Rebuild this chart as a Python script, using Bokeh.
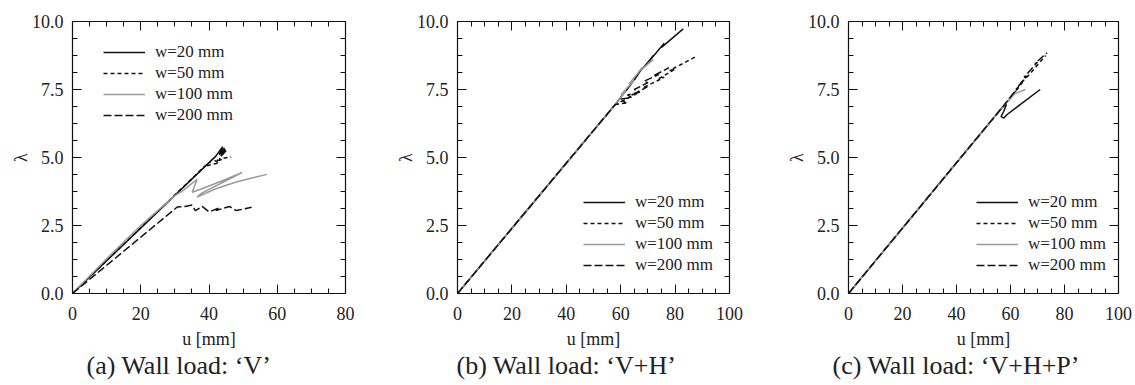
from bokeh.plotting import figure
from bokeh.layouts import row
from bokeh.models import (FixedTicker, LinearAxis, PrintfTickFormatter, Title, Range1d)
from bokeh.embed import file_html
from bokeh.resources import INLINE

# ---------------- data ----------------
series_labels = ["w=20 mm", "w=50 mm", "w=100 mm", "w=200 mm"]

# (a) Wall load: 'V'
a_w20_u = [0, 42, 44, 43, 44.5, 43.5, 45, 44, 44.8]
a_w20_l = [0, 5.05, 5.4, 5.1, 5.35, 5.05, 5.25, 5.15, 5.3]
a_w50_u = [0, 38.5, 40.5, 39.5, 41, 43, 41.5, 44, 43, 46.5]
a_w50_l = [0, 4.65, 4.85, 4.7, 4.75, 4.8, 4.9, 4.9, 4.95, 5.02]
a_w100_u = [0, 10, 20, 30, 32.6, 36.5, 35.1, 40, 45, 49.7, 38, 36.5, 42, 48, 57]
a_w100_l = [0, 1.28, 2.5, 3.6, 3.8, 4.2, 3.72, 3.95, 4.2, 4.45, 3.7, 3.55, 3.85, 4.1, 4.38]
a_w200_u = [0, 30.7, 33, 35, 36, 38, 40, 43, 42, 46, 48, 52.5]
a_w200_l = [0, 3.18, 3.2, 3.25, 3.05, 3.2, 3.0, 3.15, 3.05, 3.2, 3.05, 3.17]

# (b) Wall load: 'V+H'
b_w20_u = [0, 58, 63, 62, 66, 65, 68, 66.5, 70, 72, 70.5, 76, 75, 83]
b_w20_l = [0, 6.95, 7.6, 7.45, 8.0, 7.85, 8.3, 8.1, 8.5, 8.75, 8.55, 9.2, 9.05, 9.73]
b_w50_u = [0, 58, 61, 60, 66, 64, 70, 68, 76, 74, 80, 78, 87.5]
b_w50_l = [0, 6.95, 7.1, 7.05, 7.35, 7.3, 7.6, 7.55, 7.95, 7.9, 8.25, 8.2, 8.7]
b_w100_u = [0, 58, 62, 60, 65, 63, 68, 66.5, 72]
b_w100_l = [0, 6.95, 7.45, 7.3, 7.85, 7.7, 8.3, 8.15, 8.6]
b_w200_u = [0, 58, 62, 60, 64, 62.5, 67, 65, 70, 68.5, 74, 72, 77.7]
b_w200_l = [0, 6.95, 7.0, 7.15, 7.2, 7.3, 7.4, 7.5, 7.75, 7.8, 8.05, 8.0, 8.3]

# (c) Wall load: 'V+H+P'
c_w20_u = [0, 57, 58.5, 57.5, 56.5, 57.5, 59, 71]
c_w20_l = [0, 6.85, 6.95, 6.7, 6.5, 6.45, 6.6, 7.5]
c_w50_u = [0, 57, 62, 61, 65, 63.5, 67, 73]
c_w50_l = [0, 6.85, 7.45, 7.3, 7.85, 7.7, 8.05, 8.75]
c_w100_u = [0, 57, 60, 59, 62, 60.5, 65.5]
c_w100_l = [0, 6.85, 7.2, 7.05, 7.4, 7.3, 7.5]
c_w200_u = [0, 57, 63, 62, 66, 65, 70, 69, 73.5]
c_w200_l = [0, 6.85, 7.6, 7.5, 8.0, 7.95, 8.5, 8.45, 8.85]

x_ticks_a = [0, 20, 40, 60, 80]
x_ticks_bc = [0, 20, 40, 60, 80, 100]
y_ticks = [0, 2.5, 5.0, 7.5, 10.0]
captions = ["(a) Wall load: \u2018V\u2019", "(b) Wall load: \u2018V+H\u2019", "(c) Wall load: \u2018V+H+P\u2019"]

# ---------------- styling ----------------
FONT = "Liberation Serif"
TXT = "#222222"
styles = [
    dict(line_color="#111111", line_dash="solid"),
    dict(line_color="#111111", line_dash="4 3"),
    dict(line_color="#9a9a9a", line_dash="solid"),
    dict(line_color="#111111", line_dash="8 3"),
]


def style_axis(ax):
    ax.axis_line_color = "#111111"
    ax.major_tick_line_color = "#111111"
    ax.minor_tick_line_color = "#111111"
    ax.major_tick_in = 9
    ax.major_tick_out = 0
    ax.minor_tick_in = 5
    ax.minor_tick_out = 0
    ax.major_label_text_font = FONT
    ax.major_label_text_font_size = "18px"
    ax.major_label_text_color = TXT
    ax.axis_label_text_font = FONT
    ax.axis_label_text_font_size = "18px"
    ax.axis_label_text_font_style = "normal"
    ax.axis_label_text_color = TXT


def make_panel(width, bl, br, xmax, xticks, data, caption, leg_loc, cap_offset):
    p = figure(width=width, height=385, output_backend="svg", toolbar_location=None,
               x_range=Range1d(0, xmax), y_range=Range1d(0, 10),
               min_border_left=bl, min_border_right=br, min_border_top=21, min_border_bottom=92)
    p.xgrid.visible = False
    p.ygrid.visible = False
    p.outline_line_color = "#111111"
    p.outline_line_width = 1.2
    p.background_fill_color = "white"
    p.border_fill_color = "white"

    xminor = [v for v in range(0, int(xmax) + 1, 5)]
    yminor = [i * 0.625 for i in range(17)]
    xt = FixedTicker(ticks=xticks, minor_ticks=xminor)
    yt = FixedTicker(ticks=y_ticks, minor_ticks=yminor)

    bottom = p.below[0]
    left = p.left[0]
    bottom.ticker = xt
    bottom.axis_label = "u [mm]"
    bottom.major_label_standoff = 13
    bottom.axis_label_standoff = 6
    left.ticker = yt
    left.formatter = PrintfTickFormatter(format="%.1f")
    left.axis_label = "\u03bb"
    left.major_label_standoff = 9
    left.axis_label_standoff = -2

    top = LinearAxis(ticker=xt)
    right = LinearAxis(ticker=yt)
    p.add_layout(top, "above")
    p.add_layout(right, "right")

    for ax in [bottom, left, top, right]:
        style_axis(ax)
    top.major_label_overrides = {t: "" for t in xticks}
    right.major_label_overrides = {t: "" for t in y_ticks}
    for ax in [top, right]:
        ax.major_label_standoff = 0
        ax.major_label_text_font_size = "1px"

    for (u, l), lab, st in zip(data, series_labels, styles):
        p.line(u, l, line_width=1.5, legend_label=lab, **st)

    leg = p.legend[0]
    leg.location = leg_loc
    leg.border_line_color = None
    leg.background_fill_alpha = 0
    leg.padding = 0
    leg.margin = 0
    leg.spacing = 1
    leg.glyph_width = 42
    leg.glyph_height = 20
    leg.label_height = 20
    leg.label_standoff = 10
    leg.label_text_font = FONT
    leg.label_text_font_size = "17px"
    leg.label_text_color = TXT

    cap = Title(text=caption, align="left", offset=cap_offset, standoff=-6,
                text_font=FONT, text_font_size="26px", text_font_style="normal",
                text_color=TXT)
    p.add_layout(cap, "below")
    return p


pa = make_panel(378, 72, 33, 80, x_ticks_a,
                [(a_w20_u, a_w20_l), (a_w50_u, a_w50_l), (a_w100_u, a_w100_l), (a_w200_u, a_w200_l)],
                captions[0], (31, 168), 14)
pb = make_panel(377, 79, 26, 100, x_ticks_bc,
                [(b_w20_u, b_w20_l), (b_w50_u, b_w50_l), (b_w100_u, b_w100_l), (b_w200_u, b_w200_l)],
                captions[1], (126, 18), -1)
pc = make_panel(380, 93, 17, 100, x_ticks_bc,
                [(c_w20_u, c_w20_l), (c_w50_u, c_w50_l), (c_w100_u, c_w100_l), (c_w200_u, c_w200_l)],
                captions[2], (128, 18), -16)

layout = row(pa, pb, pc, spacing=0)
open("out.html", "w").write(file_html(layout, INLINE))
